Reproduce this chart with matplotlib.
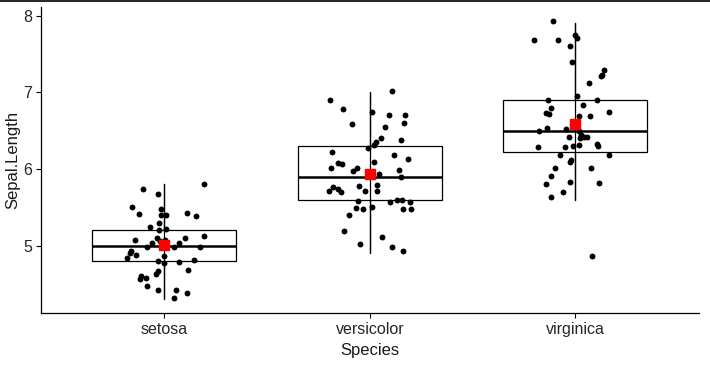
import numpy as np
import matplotlib.pyplot as plt
from matplotlib.lines import Line2D

# Species on the x axis
species = ['setosa', 'versicolor', 'virginica']

# jittered points: x offset from category centre, Sepal.Length
setosa_dx = [0.195, -0.102, -0.029, -0.156, -0.015, -0.122, -0.015, 0.007, 0.112, 0.156,
             -0.024, -0.068, -0.024, 0.010, 0.195, -0.141, -0.034, -0.058, 0.005, -0.021,
             0.102, 0.073, -0.083, 0.049, 0.175, -0.161, -0.165, -0.136, -0.180, 0.000,
             -0.029, 0.000, 0.073, 0.146, 0.117, -0.029, -0.039, -0.112, -0.117, -0.088,
             -0.083, -0.029, 0.058, 0.112, 0.049]
setosa_y = [5.80, 5.736, 5.670, 5.50, 5.475, 5.41, 5.396, 5.396, 5.42, 5.383,
            5.29, 5.24, 5.20, 5.214, 5.12, 5.07, 5.097, 5.035, 5.07, 5.057,
            5.097, 5.035, 4.98, 4.98, 4.98, 4.927, 4.90, 4.875, 4.836, 4.862,
            4.797, 4.77, 4.783, 4.81, 4.68, 4.67, 4.627, 4.605, 4.566, 4.575,
            4.47, 4.418, 4.418, 4.38, 4.314]

versicolor_dx = [0.109, -0.193, -0.130, 0.011, 0.094, 0.172, -0.086, 0.167, 0.075, 0.055,
                 0.152, 0.031, 0.021, -0.008, -0.183, 0.118, 0.186, 0.021, -0.154, -0.135,
                 -0.188, -0.062, -0.081, 0.143, 0.045, 0.152, -0.179, -0.154, -0.198, -0.140,
                 -0.052, -0.023, 0.036, 0.036, -0.057, -0.067, -0.033, 0.011, 0.099, 0.133,
                 0.157, 0.196, 0.163, 0.201, -0.101, -0.125, 0.060, -0.047, 0.109, 0.162]
versicolor_y = [7.014, 6.896, 6.779, 6.740, 6.70, 6.70, 6.583, 6.596, 6.544, 6.40,
                6.375, 6.349, 6.31, 6.27, 6.218, 6.18, 6.127, 6.088, 6.075, 6.062,
                6.01, 6.01, 5.97, 5.983, 5.931, 5.892, 5.762, 5.736, 5.71, 5.696,
                5.775, 5.71, 5.788, 5.71, 5.579, 5.488, 5.475, 5.50, 5.566, 5.592,
                5.592, 5.566, 5.475, 5.475, 5.396, 5.188, 5.11, 5.018, 4.979, 4.927]

virginica_dx = [-0.108, -0.200, -0.084, -0.001, 0.009, -0.025, -0.016, 0.140, 0.130, 0.126,
                0.067, 0.009, -0.132, 0.106, -0.119, 0.038, -0.142, -0.127, 0.164, 0.018,
                0.072, -0.137, -0.176, -0.045, 0.018, 0.028, 0.043, 0.057, 0.023, -0.030,
                0.106, 0.111, -0.181, -0.050, -0.011, 0.018, -0.074, 0.164, -0.020, -0.025,
                -0.098, 0.077, -0.118, -0.142, -0.025, 0.116, -0.059, -0.118, 0.082]
virginica_y = [7.927, 7.679, 7.679, 7.744, 7.705, 7.60, 7.392, 7.288, 7.222, 7.209,
               7.118, 6.949, 6.896, 6.896, 6.792, 6.831, 6.727, 6.714, 6.74, 6.688,
               6.688, 6.531, 6.492, 6.518, 6.492, 6.44, 6.414, 6.414, 6.401, 6.414,
               6.323, 6.296, 6.283, 6.283, 6.296, 6.31, 6.179, 6.179, 6.114, 6.088,
               6.01, 6.01, 5.909, 5.80, 5.827, 5.814, 5.696, 5.631, 4.862]

# box statistics
whisk_lo = [4.3, 4.9, 5.6]
q1 = [4.8, 5.6, 6.225]
med = [5.0, 5.9, 6.5]
q3 = [5.2, 6.3, 6.9]
whisk_hi = [5.8, 7.0, 7.9]
means = [5.006, 5.936, 6.588]

plt.rcParams['font.family'] = ['Liberation Sans', 'DejaVu Sans']

fig = plt.figure(figsize=(7.1, 3.65), dpi=100)
ax = fig.add_axes([41 / 710, (365 - 313.3) / 365, (698.6 - 41) / 710, (313.3 - 6.7) / 365])

pos = np.arange(1, 4)

# whisker line runs through the box
ax.vlines(pos, whisk_lo, whisk_hi, color='black', lw=0.9, zorder=1)

stats = []
for i in range(3):
    stats.append(dict(med=med[i], q1=q1[i], q3=q3[i], whislo=whisk_lo[i], whishi=whisk_hi[i], fliers=[]))
ax.bxp(stats, positions=pos, widths=0.7, showcaps=False, showfliers=False, patch_artist=True,
       boxprops=dict(facecolor='none', edgecolor='black', linewidth=0.9),
       whiskerprops=dict(color='black', linewidth=0.9),
       medianprops=dict(color='black', linewidth=1.8), manage_ticks=False)

# jittered points
all_dx = [setosa_dx, versicolor_dx, virginica_dx]
all_y = [setosa_y, versicolor_y, virginica_y]
for i in range(3):
    ax.scatter(pos[i] + np.array(all_dx[i]), all_y[i], s=18, color='black', linewidths=0, zorder=3)

# means
ax.plot(pos, means, 's', color='red', markersize=7, zorder=4)

ax.set_xlim(0.4, 3.6)
ax.set_ylim(4.118, 8.117)
ax.set_xticks(pos)
ax.set_xticklabels(species)
ax.set_yticks([5, 6, 7, 8])
ax.tick_params(labelsize=11.5, labelcolor='#262626', length=3.5, width=0.8, pad=3)
ax.set_xlabel('Species', fontsize=12, color='#1a1a1a', labelpad=4)
ax.set_ylabel('Sepal.Length', fontsize=12, color='#1a1a1a', labelpad=2)
for s in ['top', 'right']:
    ax.spines[s].set_visible(False)
for s in ['left', 'bottom']:
    ax.spines[s].set_linewidth(0.9)

# border line along the top edge of the image
fig.add_artist(Line2D([0, 1], [0.998, 0.998], transform=fig.transFigure, color='black', lw=1.2))

fig.savefig('out.png', dpi=100)
